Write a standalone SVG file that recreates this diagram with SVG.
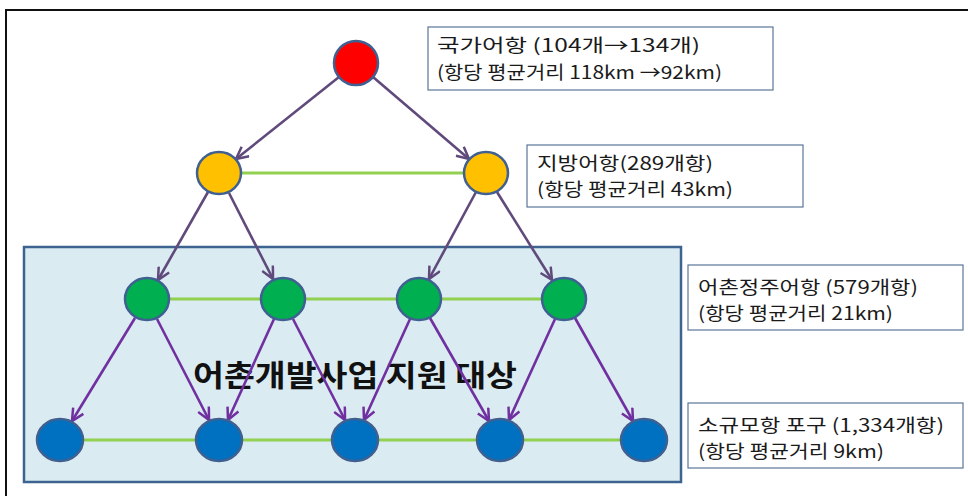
<svg xmlns="http://www.w3.org/2000/svg" width="968" height="496" viewBox="0 0 968 496">
<style>
.lbl{font-family:"Noto Sans CJK KR","Noto Sans",sans-serif;font-size:18px;fill:#1a1a1a}
.box{fill:#ffffff;stroke:#5b7598;stroke-width:1.2}
.node{stroke:#3f6090;stroke-width:2.5}
.red{fill:#ff0000}.yel{fill:#ffc000}.grn{fill:#00b050}.blu{fill:#0070c0}
.link{stroke:#92d050;stroke-width:3;fill:none}
.arr1{stroke:#604a7b;stroke-width:2.6;fill:none;marker-end:url(#ah1)}
.arr2{stroke:#7030a0;stroke-width:2.6;fill:none;marker-end:url(#ah2)}
</style>
<defs>
<marker id="ah1" viewBox="0 0 14 14" refX="13" refY="7" markerWidth="14" markerHeight="14" markerUnits="userSpaceOnUse" orient="auto">
<path d="M1,1 L13,7 L1,13" fill="none" stroke="#604a7b" stroke-width="2.5"/>
</marker>
<marker id="ah2" viewBox="0 0 14 14" refX="13" refY="7" markerWidth="14" markerHeight="14" markerUnits="userSpaceOnUse" orient="auto">
<path d="M1,1 L13,7 L1,13" fill="none" stroke="#7030a0" stroke-width="2.5"/>
</marker>
</defs>
<rect width="968" height="496" fill="#ffffff"/>
<path d="M6,496 V10 H968" fill="none" stroke="#111" stroke-width="2"/>
<g id="region">
<rect x="24" y="247" width="657" height="235" fill="#daebf2" stroke="#3d6491" stroke-width="2.5"/>
<text x="193" y="386" font-family="'Noto Sans CJK KR',sans-serif" font-size="30" font-weight="bold" fill="#111" textLength="324" lengthAdjust="spacingAndGlyphs">어촌개발사업 지원 대상</text>
</g>
<g id="connectors">
<line class="link" x1="241" y1="173" x2="464" y2="173"/>
<line class="link" x1="169" y1="299" x2="261" y2="299"/>
<line class="link" x1="305" y1="299" x2="397" y2="299"/>
<line class="link" x1="441" y1="299" x2="542" y2="299"/>
<line class="link" x1="83" y1="440" x2="196" y2="440"/>
<line class="link" x1="242" y1="440" x2="332" y2="440"/>
<line class="link" x1="378" y1="440" x2="477" y2="440"/>
<line class="link" x1="523" y1="440" x2="621" y2="440"/>
<line class="arr1" x1="339" y1="77" x2="236" y2="159"/>
<line class="arr1" x1="373" y1="77" x2="469" y2="159"/>
<line class="arr1" x1="208" y1="192" x2="158" y2="280"/>
<line class="arr1" x1="229" y1="193" x2="273" y2="279"/>
<line class="arr1" x1="476" y1="192" x2="429" y2="279"/>
<line class="arr1" x1="497" y1="192" x2="552" y2="280"/>
<line class="arr2" x1="135" y1="318" x2="72" y2="421"/>
<line class="arr2" x1="157" y1="319" x2="209" y2="420"/>
<line class="arr2" x1="274" y1="319" x2="228" y2="420"/>
<line class="arr2" x1="293" y1="319" x2="345" y2="420"/>
<line class="arr2" x1="410" y1="319" x2="364" y2="420"/>
<line class="arr2" x1="430" y1="318" x2="489" y2="421"/>
<line class="arr2" x1="555" y1="319" x2="509" y2="420"/>
<line class="arr2" x1="575" y1="318" x2="633" y2="421"/>
</g>
<g id="n-red"><ellipse class="node red" cx="356" cy="63" rx="22" ry="22"/></g>
<g id="n-y1"><ellipse class="node yel" cx="219" cy="173" rx="22" ry="21"/></g>
<g id="n-y2"><ellipse class="node yel" cx="486" cy="173" rx="22" ry="21"/></g>
<g id="n-g1"><ellipse class="node grn" cx="147" cy="299" rx="22" ry="21"/></g>
<g id="n-g2"><ellipse class="node grn" cx="283" cy="299" rx="22" ry="21"/></g>
<g id="n-g3"><ellipse class="node grn" cx="419" cy="299" rx="22" ry="21"/></g>
<g id="n-g4"><ellipse class="node grn" cx="564" cy="299" rx="22" ry="21"/></g>
<g id="n-b1"><ellipse class="node blu" cx="60" cy="440" rx="23" ry="21"/></g>
<g id="n-b2"><ellipse class="node blu" cx="219" cy="440" rx="23" ry="21"/></g>
<g id="n-b3"><ellipse class="node blu" cx="355" cy="440" rx="23" ry="21"/></g>
<g id="n-b4"><ellipse class="node blu" cx="500" cy="440" rx="23" ry="21"/></g>
<g id="n-b5"><ellipse class="node blu" cx="644" cy="440" rx="23" ry="21"/></g>
<g id="label-national">
<rect class="box" x="428" y="27" width="345" height="63"/>
<text class="lbl" x="437" y="52" textLength="263" lengthAdjust="spacingAndGlyphs">국가어항 (104개→134개)</text>
<text class="lbl" x="437" y="79" textLength="285" lengthAdjust="spacingAndGlyphs">(항당 평균거리 118km →92km)</text>
</g>
<g id="label-regional">
<rect class="box" x="527" y="145" width="276" height="62"/>
<text class="lbl" x="537" y="170" textLength="176" lengthAdjust="spacingAndGlyphs">지방어항(289개항)</text>
<text class="lbl" x="537" y="196" textLength="196" lengthAdjust="spacingAndGlyphs">(항당 평균거리 43km)</text>
</g>
<g id="label-village">
<rect class="box" x="688" y="265" width="275" height="65"/>
<text class="lbl" x="698" y="294" textLength="220" lengthAdjust="spacingAndGlyphs">어촌정주어항 (579개항)</text>
<text class="lbl" x="698" y="320" textLength="195" lengthAdjust="spacingAndGlyphs">(항당 평균거리 21km)</text>
</g>
<g id="label-small">
<rect class="box" x="688" y="403" width="275" height="65"/>
<text class="lbl" x="698" y="432" textLength="246" lengthAdjust="spacingAndGlyphs">소규모항 포구 (1,334개항)</text>
<text class="lbl" x="698" y="458" textLength="186" lengthAdjust="spacingAndGlyphs">(항당 평균거리 9km)</text>
</g>
</svg>
